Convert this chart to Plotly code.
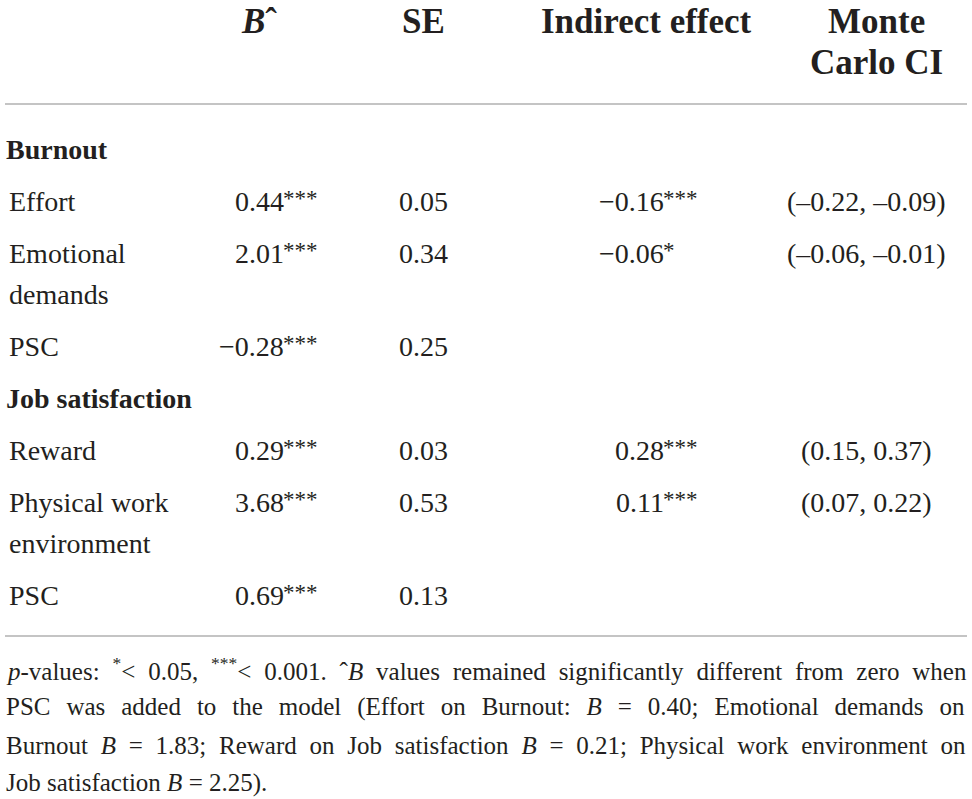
import plotly.graph_objects as go

groups = ["Burnout", "Job satisfaction"]
group_rows = [
    ["Effort", "Emotional\ndemands", "PSC"],
    ["Reward", "Physical work\nenvironment", "PSC"],
]
b_values = [["0.44", "2.01", "\u22120.28"], ["0.29", "3.68", "0.69"]]
b_sig = [["***", "***", "***"], ["***", "***", "***"]]
se_values = [["0.05", "0.34", "0.25"], ["0.03", "0.53", "0.13"]]
indirect_values = [["\u22120.16", "\u22120.06", ""], ["0.28", "0.11", ""]]
indirect_sig = [["***", "*", ""], ["***", "***", ""]]
ci_values = [["(\u20130.22, \u20130.09)", "(\u20130.06, \u20130.01)", ""],
             ["(0.15, 0.37)", "(0.07, 0.22)", ""]]

headers = ["<i>B</i>\u02c6", "SE", "Indirect effect", "Monte\nCarlo CI"]
header_x = [259, 423, 646, 876]

footnote = [
    "<i>p</i>-values: <sup>*</sup>< 0.05, <sup>***</sup>< 0.001. \u02c6<i>B</i> values remained significantly different from zero when",
    "PSC was added to the model (Effort on Burnout: <i>B</i> = 0.40; Emotional demands on",
    "Burnout <i>B</i> = 1.83; Reward on Job satisfaction <i>B</i> = 0.21; Physical work environment on",
    "Job satisfaction <i>B</i> = 2.25).",
]
# extra space between words so the paragraph reads justified
footnote_spacing = [6.6, 9.7, 6.5, 0]

W, H = 972, 799
serif = "Liberation Serif"
ink = "#231f20"
body_size = 28

fig = go.Figure()
ann = []


def txt(x, y, s, size=body_size, anchor="left", bold=False):
    ann.append(dict(
        x=x, y=y, xref="x", yref="y", text=f"<b>{s}</b>" if bold else s,
        showarrow=False, xanchor=anchor, yanchor="middle", borderpad=0,
        font=dict(family=serif, size=size, color=ink)))


# header
for h, hx in zip(headers, header_x):
    for j, line in enumerate(h.split("\n")):
        txt(hx, 21 + 41 * j, line, size=35, anchor="center", bold=True)

# body rows
y = 149
for g, group in enumerate(groups):
    txt(5, y, group, bold=True)
    for r, label in enumerate(group_rows[g]):
        y += 52
        lines = label.split("\n")
        for j, line in enumerate(lines):
            txt(8, y + 41 * j, line)
        txt(285, y, b_values[g][r], anchor="right")
        txt(282, y - 3, b_sig[g][r], size=23, anchor="left")
        txt(423, y, se_values[g][r], anchor="center")
        if indirect_values[g][r]:
            txt(665, y, indirect_values[g][r], anchor="right")
            txt(662, y - 3, indirect_sig[g][r], size=23, anchor="left")
        if ci_values[g][r]:
            txt(866, y, ci_values[g][r], anchor="center")
        y += 41 * (len(lines) - 1)
    y += 52

# footnote
for k, line in enumerate(footnote):
    sp = footnote_spacing[k]
    txt(5, 669 + 38 * k, f'<span style="word-spacing:{sp}px">{line}</span>', size=25)

shapes = [
    dict(type="line", xref="x", yref="y", x0=5, x1=967, y0=104, y1=104,
         line=dict(color="#c4c4c4", width=2)),
    dict(type="line", xref="x", yref="y", x0=5, x1=967, y0=636, y1=636,
         line=dict(color="#c4c4c4", width=2)),
]

fig.update_layout(
    width=W, height=H,
    margin=dict(l=0, r=0, t=0, b=0),
    paper_bgcolor="white", plot_bgcolor="white",
    xaxis=dict(range=[0, W], visible=False, fixedrange=True),
    yaxis=dict(range=[H, 0], visible=False, fixedrange=True),
    annotations=ann,
    shapes=shapes,
    showlegend=False,
)

fig.write_html("out.html", config=dict(displayModeBar=False),
               post_script="document.body.style.margin='0';")
